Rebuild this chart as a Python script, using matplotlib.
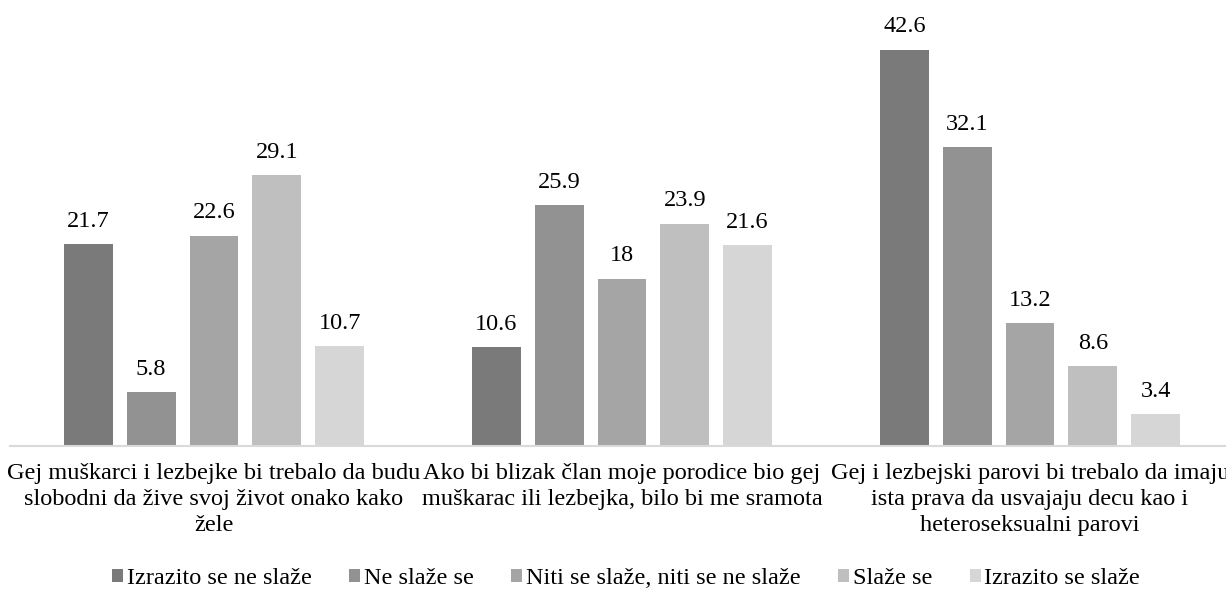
import matplotlib.pyplot as plt
import numpy as np

categories = [
    "Gej muškarci i lezbejke bi trebalo da budu\nslobodni da žive svoj život onako kako\nžele",
    "Ako bi blizak član moje porodice bio gej\nmuškarac ili lezbejka, bilo bi me sramota",
    "Gej i lezbejski parovi bi trebalo da imaju\nista prava da usvajaju decu kao i\nheteroseksualni parovi",
]
series_names = ["Izrazito se ne slaže", "Ne slaže se", "Niti se slaže, niti se ne slaže",
                "Slaže se", "Izrazito se slaže"]
values = {
    "Izrazito se ne slaže": [21.7, 10.6, 42.6],
    "Ne slaže se": [5.8, 25.9, 32.1],
    "Niti se slaže, niti se ne slaže": [22.6, 18, 13.2],
    "Slaže se": [29.1, 23.9, 8.6],
    "Izrazito se slaže": [10.7, 21.6, 3.4],
}
labels = {
    "Izrazito se ne slaže": ["21.7", "10.6", "42.6"],
    "Ne slaže se": ["5.8", "25.9", "32.1"],
    "Niti se slaže, niti se ne slaže": ["22.6", "18", "13.2"],
    "Slaže se": ["29.1", "23.9", "8.6"],
    "Izrazito se slaže": ["10.7", "21.6", "3.4"],
}
colors = ["#7a7a7a", "#929292", "#a5a5a5", "#bfbfbf", "#d6d6d6"]

plt.rcParams['font.family'] = ['Liberation Serif', 'DejaVu Serif']
FS = 17.5

fig = plt.figure(figsize=(12.26, 5.89), dpi=100)
W, H = 1226, 589
ax = fig.add_axes([10 / W, 1 - 446 / H, 1 - 10 / W, (446 - 3) / H])

x = np.arange(len(categories))
bw = 0.12
step = 0.154
for i, name in enumerate(series_names):
    xs = x + (i - 2) * step
    ax.bar(xs, values[name], width=bw, color=colors[i], label=name, zorder=2)
    for xi, v, lab in zip(xs, values[name], labels[name]):
        ax.annotate(lab, (xi, v), xytext=(0, 9), textcoords='offset points',
                    ha='center', va='bottom', fontsize=FS, color='#000000')

ax.set_xlim(-0.5, (1226 - 214) / 408)
ax.set_ylim(0, 443 / 9.3)
for s in ['top', 'right', 'left']:
    ax.spines[s].set_visible(False)
ax.spines['bottom'].set_color('#d9d9d9')
ax.spines['bottom'].set_linewidth(1.5)
ax.set_yticks([])
ax.set_xticks(x)
ax.set_xticklabels(categories, fontsize=FS, linespacing=1.32)
ax.tick_params(axis='x', length=0, pad=12)

handles, lbls = ax.get_legend_handles_labels()
fig.legend(handles, lbls, loc='center', bbox_to_anchor=(626 / W, 1 - 579 / H), ncol=5,
           frameon=False, fontsize=FS, handlelength=0.45, handleheight=0.45,
           handletextpad=0.15, columnspacing=1.55, borderpad=0)

fig.savefig("out.png", dpi=100)
